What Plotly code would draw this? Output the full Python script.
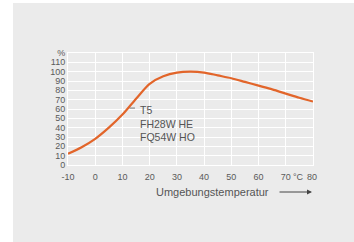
import plotly.graph_objects as go

temps = [-10, -5, 0, 5, 10, 15, 20, 25, 30, 35, 40, 45, 50, 55, 60, 65, 70, 75, 80]
output_pct = [12, 19, 28, 40, 54, 71, 87, 95, 99, 100, 99, 96, 93, 89, 85, 81, 76.5, 72, 68]
x_ticks = [-10, 0, 10, 20, 30, 40, 50, 60, 70, 80]
x_labels = ["-10", "0", "10", "20", "30", "40", "50", "60", "70", ""]
unit_label = "°C"
last_label = "80"
y_ticks = [0, 10, 20, 30, 40, 50, 60, 70, 80, 90, 100, 110, 120]
y_labels = ["0", "10", "20", "30", "40", "50", "60", "70", "80", "90", "100", "110", "%"]
lamp_label = "T5<br>FH28W HE<br>FQ54W HO"

W, H = 354, 242
L, R, T, B = 68, 41, 53, 77
pw, ph = W - L - R, H - T - B
bg = "#ebebeb"
txt = "#5a5a5a"
font = "Liberation Sans, Arial, sans-serif"

fig = go.Figure()
fig.add_trace(go.Scatter(x=temps, y=output_pct, mode="lines",
                         line=dict(color="#e2652a", width=2.2, shape="spline", smoothing=0.8),
                         hoverinfo="skip", showlegend=False))

def px2px(p):
    return (p - L) / pw

def px2py(p):
    return (H - B - p) / ph

fig.update_layout(
    width=W, height=H,
    margin=dict(l=L, r=R, t=T, b=B),
    paper_bgcolor=bg, plot_bgcolor=bg,
    font=dict(family=font, color=txt, size=9),
    xaxis=dict(range=[-10, 80], tickvals=x_ticks, ticktext=x_labels,
               showgrid=True, gridcolor="white", gridwidth=1, zeroline=False,
               showline=True, linecolor="white", linewidth=1, mirror=True,
               ticks="outside", ticklen=3, tickcolor=bg,
               tickfont=dict(size=9, color=txt), fixedrange=True),
    yaxis=dict(range=[0, 120], tickvals=y_ticks, ticktext=y_labels,
               showgrid=True, gridcolor="white", gridwidth=1, zeroline=True, zerolinecolor="white",
               showline=True, linecolor="white", linewidth=1, mirror=True,
               ticks="", tickfont=dict(size=9, color=txt), fixedrange=True),
    shapes=[
        dict(type="rect", xref="paper", yref="paper",
             x0=px2px(-2), x1=px2px(13), y0=px2py(-2), y1=px2py(H + 2),
             fillcolor="white", line=dict(width=0), layer="above"),
        dict(type="rect", xref="paper", yref="paper",
             x0=px2px(-2), x1=px2px(W + 2), y0=px2py(-2), y1=px2py(3),
             fillcolor="white", line=dict(width=0), layer="above"),
        dict(type="line", xref="x", yref="y", x0=12.6, x1=14.6, y0=61, y1=61,
             line=dict(color="#777", width=1)),
    ],
    annotations=[
        dict(text=lamp_label, x=15.6, y=67.5, xref="x", yref="y", xanchor="left", yanchor="top",
             align="left", showarrow=False, font=dict(size=10.5, color="#555")),
        dict(text=unit_label, x=px2px(298), y=px2py(176.5), xref="paper", yref="paper",
             xanchor="center", yanchor="middle", showarrow=False, font=dict(size=9, color=txt)),
        dict(text=last_label, x=px2px(312), y=px2py(176.5), xref="paper", yref="paper",
             xanchor="center", yanchor="middle", showarrow=False, font=dict(size=9, color=txt)),
        dict(text="Umgebungstemperatur", x=px2px(271), y=px2py(192), xref="paper", yref="paper",
             xanchor="right", yanchor="middle", showarrow=False, font=dict(size=11, color="#555")),
        dict(text="", x=px2px(312), y=px2py(192), xref="paper", yref="paper",
             showarrow=True, ax=-34, ay=0, arrowhead=2, arrowsize=1, arrowwidth=1,
             arrowcolor="#444"),
    ],
)

fig.write_html("out.html", config={"displayModeBar": False},
               post_script="document.body.style.margin='0';document.body.style.overflow='hidden';")
